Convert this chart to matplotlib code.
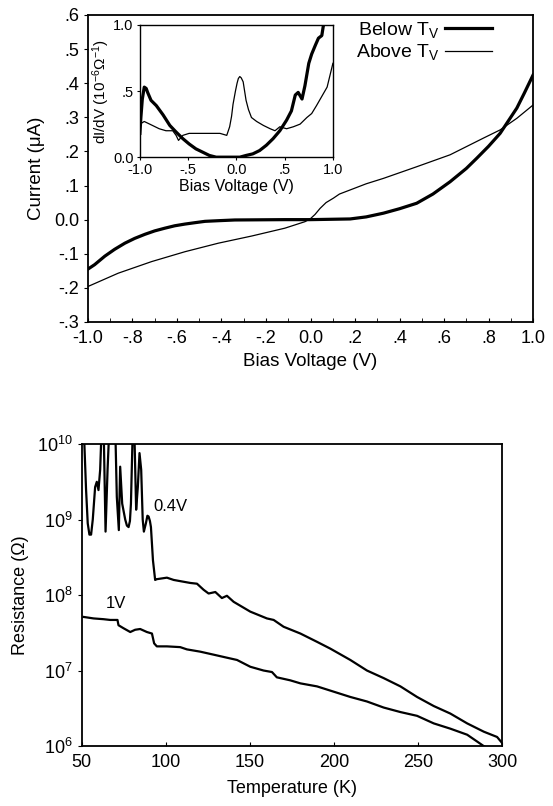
import numpy as np
import matplotlib
matplotlib.use("Agg")
import matplotlib.pyplot as plt
from matplotlib.ticker import FixedLocator, FuncFormatter, MultipleLocator

plt.rcParams['font.family'] = ['Liberation Sans', 'DejaVu Sans']
plt.rcParams['mathtext.fontset'] = 'custom'
plt.rcParams['mathtext.rm'] = 'Liberation Sans'
plt.rcParams['mathtext.it'] = 'Liberation Sans'
plt.rcParams['mathtext.bf'] = 'Liberation Sans:bold'

# ---------------- data: I-V curves ----------------
iv_below_v = [-1.0, -0.97, -0.924, -0.88, -0.834, -0.79, -0.744, -0.70, -0.654, -0.61,
              -0.564, -0.52, -0.474, -0.41, -0.34, -0.115, 0.0,
              0.178, 0.25, 0.328, 0.40, 0.477, 0.55, 0.627, 0.70, 0.747, 0.80, 0.852,
              0.927, 0.96, 1.0]
iv_below_i = [-0.145, -0.132, -0.107, -0.087, -0.069, -0.055, -0.043, -0.033, -0.025, -0.018,
              -0.013, -0.009, -0.005, -0.003, -0.001, 0.0, 0.0,
              0.002, 0.008, 0.019, 0.032, 0.048, 0.075, 0.111, 0.15, 0.18, 0.215, 0.253,
              0.327, 0.37, 0.424]
iv_above_v = [-1.0, -0.864, -0.714, -0.564, -0.414, -0.264, -0.115, -0.025, 0.0, 0.02,
              0.043, 0.07, 0.103, 0.13, 0.178, 0.25, 0.328, 0.477, 0.627, 0.777, 0.852,
              0.927, 1.0]
iv_above_i = [-0.196, -0.157, -0.123, -0.094, -0.069, -0.048, -0.025, -0.006, 0.003, 0.015,
              0.033, 0.05, 0.063, 0.075, 0.087, 0.105, 0.121, 0.155, 0.19, 0.239, 0.263,
              0.297, 0.336]

# ---------------- data: dI/dV (inset) ----------------
didv_below_v = [-1.0, -0.99, -0.975, -0.955, -0.935, -0.92, -0.885, -0.83, -0.76, -0.69,
                -0.625, -0.555, -0.49, -0.42, -0.35, -0.28, -0.21, -0.07, 0.035, 0.10,
                0.17, 0.24, 0.31, 0.38, 0.45, 0.52, 0.57, 0.61, 0.64, 0.68,
                0.71, 0.75, 0.78, 0.82, 0.85, 0.885, 0.90, 0.915]
didv_below_g = [0.18, 0.30, 0.44, 0.53, 0.52, 0.49, 0.43, 0.39, 0.32, 0.24,
                0.19, 0.14, 0.10, 0.063, 0.038, 0.013, 0.0, 0.0, 0.0, 0.013,
                0.025, 0.05, 0.09, 0.14, 0.20, 0.28, 0.35, 0.47, 0.49, 0.44,
                0.54, 0.71, 0.78, 0.85, 0.90, 0.92, 0.99, 1.03]
didv_above_v = [-1.0, -0.955, -0.87, -0.80, -0.73, -0.66, -0.625, -0.60, -0.555, -0.49,
                -0.38, -0.28, -0.17, -0.10, -0.07, -0.05, -0.035, -0.01, 0.007, 0.02,
                0.035, 0.05, 0.07, 0.085, 0.10, 0.125, 0.156, 0.21, 0.28, 0.35,
                0.40, 0.45, 0.52, 0.59, 0.66, 0.73, 0.78, 0.83, 0.885, 0.94, 1.0]
didv_above_g = [0.25, 0.27, 0.24, 0.215, 0.20, 0.20, 0.165, 0.127, 0.165, 0.18,
                0.18, 0.18, 0.18, 0.165, 0.23, 0.31, 0.40, 0.50, 0.56, 0.595,
                0.61, 0.60, 0.57, 0.50, 0.43, 0.36, 0.30, 0.27, 0.24, 0.215,
                0.20, 0.23, 0.215, 0.23, 0.25, 0.30, 0.33, 0.39, 0.46, 0.53, 0.71]

# ---------------- data: R(T) ----------------
rt04_T = [50.6, 51.5, 52.5, 53.5, 54.5, 55.5, 56.5, 57.9, 58.9, 59.9, 60.9, 61.9, 62.9,
          64.1, 65.3, 66.5, 67.9, 69.8, 70.8, 72, 72.8, 74, 75.8, 76.8, 77.8, 78.6, 79.2,
          80.4, 81.1, 82.3, 83.3, 84.3, 85.3, 86.2, 86.9, 88.1, 89.0, 89.7, 90.5, 91.1,
          92.3, 93.6, 94.6, 100.6, 104.6, 109.5, 114.5, 118.5,
          122.4, 125.4, 129.4, 133.3, 136.3, 140.3, 150.2, 160.1, 164.1, 170, 180, 189.9,
          197.8, 209.7, 219.6, 229.5, 239.5, 249.4, 259.3, 269.2, 279.2, 289.1, 297, 300]
rt04_logR = [10.3, 10.0, 9.4, 8.95, 8.8, 8.8, 9.0, 9.43, 9.5, 9.39, 9.66, 10.3, 10.3,
             8.84, 9.66, 10.3, 10.3, 10.3, 9.3, 8.86, 9.7, 9.21, 9.0, 8.92, 8.9, 8.98, 9.21,
             10.3, 10.3, 9.13, 9.43, 9.88, 9.66, 9.0, 8.84, 8.95, 9.05, 9.04, 8.98, 8.9,
             8.46, 8.2, 8.21, 8.23, 8.2, 8.18, 8.16, 8.15,
             8.07, 8.02, 8.04, 7.96, 7.99, 7.91, 7.78, 7.69, 7.67, 7.58, 7.49, 7.38,
             7.29, 7.14, 7.0, 6.9, 6.79, 6.65, 6.53, 6.43, 6.3, 6.19, 6.12, 6.04]
rt1_T = [51, 57, 62.9, 66.9, 71.2, 71.8, 74.8, 78.8, 81.7, 84.7, 88.7, 91.7, 93, 94.6,
         100.6, 108.5, 112.5, 120.4, 128.4, 136.3, 142.3, 150.2, 158.1, 163.1, 166, 174,
         180, 189.9, 199.8, 209.7, 219.6, 229.5, 239.5, 249.4, 259.3, 269.2, 279.2, 285.1,
         289, 293]
rt1_logR = [7.71, 7.69, 7.68, 7.67, 7.67, 7.6, 7.56, 7.51, 7.54, 7.55, 7.51, 7.49, 7.36, 7.32,
            7.32, 7.31, 7.28, 7.25, 7.21, 7.17, 7.14, 7.05, 7.0, 6.98, 6.91, 6.87,
            6.83, 6.79, 6.72, 6.65, 6.59, 6.51, 6.45, 6.4, 6.3, 6.23, 6.15, 6.06,
            6.0, 5.95]

def dotfmt(v, pos=None):
    s = f"{v:.1f}"
    if abs(v) < 1e-9:
        return "0.0"
    if s.startswith("0."):
        return s[1:]
    if s.startswith("-0."):
        return "-" + s[2:]
    return s

fig = plt.figure(figsize=(5.53, 8.06), dpi=100)

# ---------- top: I-V ----------
ax = fig.add_axes([0.159, 0.6005, 0.805, 0.381])
ax.plot(iv_below_v, iv_below_i, color='black', lw=2.3, solid_joinstyle='round')
ax.plot(iv_above_v, iv_above_i, color='black', lw=0.9, solid_joinstyle='round')
ax.set_xlim(-1.0, 1.0)
ax.set_ylim(-0.3, 0.6)
ax.xaxis.set_major_locator(MultipleLocator(0.2))
ax.xaxis.set_minor_locator(MultipleLocator(0.1))
ax.yaxis.set_major_locator(MultipleLocator(0.1))
ax.xaxis.set_major_formatter(FuncFormatter(dotfmt))
ax.yaxis.set_major_formatter(FuncFormatter(dotfmt))
ax.tick_params(axis='x', direction='in', length=3, labelsize=13, pad=6)
ax.tick_params(axis='x', which='minor', direction='in', length=3)
ax.tick_params(axis='y', direction='out', length=3, labelsize=13)
for s in ax.spines.values():
    s.set_linewidth(1.3)
ax.set_xlabel('Bias Voltage (V)', fontsize=13.5, labelpad=4)
ax.set_ylabel('Current (\u03bcA)', fontsize=13.5, labelpad=6)

# legend (handles to the right of text)
h1, = ax.plot([], [], color='black', lw=2.3, label='Below T$_\\mathrm{V}$')
h2, = ax.plot([], [], color='black', lw=0.9, label='Above T$_\\mathrm{V}$')
ax.legend(handles=[h1, h2], loc='upper right', bbox_to_anchor=(0.908, 0.985),
          frameon=False, markerfirst=False, fontsize=14, handlelength=2.4,
          handletextpad=0.3, borderpad=0, labelspacing=0.15, borderaxespad=0)

# ---------- inset ----------
axi = fig.add_axes([0.253, 0.805, 0.349, 0.164])
axi.plot(didv_below_v, didv_below_g, color='black', lw=2.3, solid_joinstyle='round')
axi.plot(didv_above_v, didv_above_g, color='black', lw=0.9, solid_joinstyle='round')
axi.set_xlim(-1.0, 1.0)
axi.set_ylim(0.0, 1.0)
axi.xaxis.set_major_locator(FixedLocator([-1.0, -0.5, 0.0, 0.5, 1.0]))
axi.yaxis.set_major_locator(FixedLocator([0.0, 0.5, 1.0]))
axi.xaxis.set_major_formatter(FuncFormatter(dotfmt))
axi.yaxis.set_major_formatter(FuncFormatter(dotfmt))
axi.tick_params(axis='both', direction='out', length=2.5, labelsize=10.5, pad=2)
for s in axi.spines.values():
    s.set_linewidth(1.0)
axi.set_xlabel('Bias Voltage (V)', fontsize=11.5, labelpad=1)
axi.set_ylabel('dI/dV (10$^{-6}$\u03a9$^{-1}$)', fontsize=11, labelpad=1)

# ---------- bottom: R(T) ----------
axb = fig.add_axes([0.148, 0.0744, 0.760, 0.3747])
axb.plot(rt04_T, 10 ** np.array(rt04_logR), color='black', lw=1.6, solid_joinstyle='round')
axb.plot(rt1_T, 10 ** np.array(rt1_logR), color='black', lw=1.6, solid_joinstyle='round')
axb.set_yscale('log')
axb.set_xlim(50, 300)
axb.set_ylim(1e6, 1e10)
axb.xaxis.set_major_locator(FixedLocator([50, 100, 150, 200, 250, 300]))
axb.yaxis.set_major_locator(FixedLocator([1e6, 1e7, 1e8, 1e9, 1e10]))
axb.yaxis.set_minor_locator(FixedLocator([]))
axb.yaxis.set_major_formatter(FuncFormatter(lambda v, p: f"$10^{{{int(round(np.log10(v)))}}}$"))
axb.tick_params(axis='x', direction='in', length=3, labelsize=13, pad=6)
axb.tick_params(axis='y', direction='out', length=3, labelsize=13)
for s in axb.spines.values():
    s.set_linewidth(1.3)
axb.set_xlabel('Temperature (K)', fontsize=13, labelpad=6)
axb.set_ylabel('Resistance (\u03a9)', fontsize=13, labelpad=6)
axb.text(92.3, 1.5e9, '0.4V', fontsize=12, va='center', ha='left')
axb.text(64, 7.8e7, '1V', fontsize=12, va='center', ha='left')

fig.savefig('out.png', dpi=100)
